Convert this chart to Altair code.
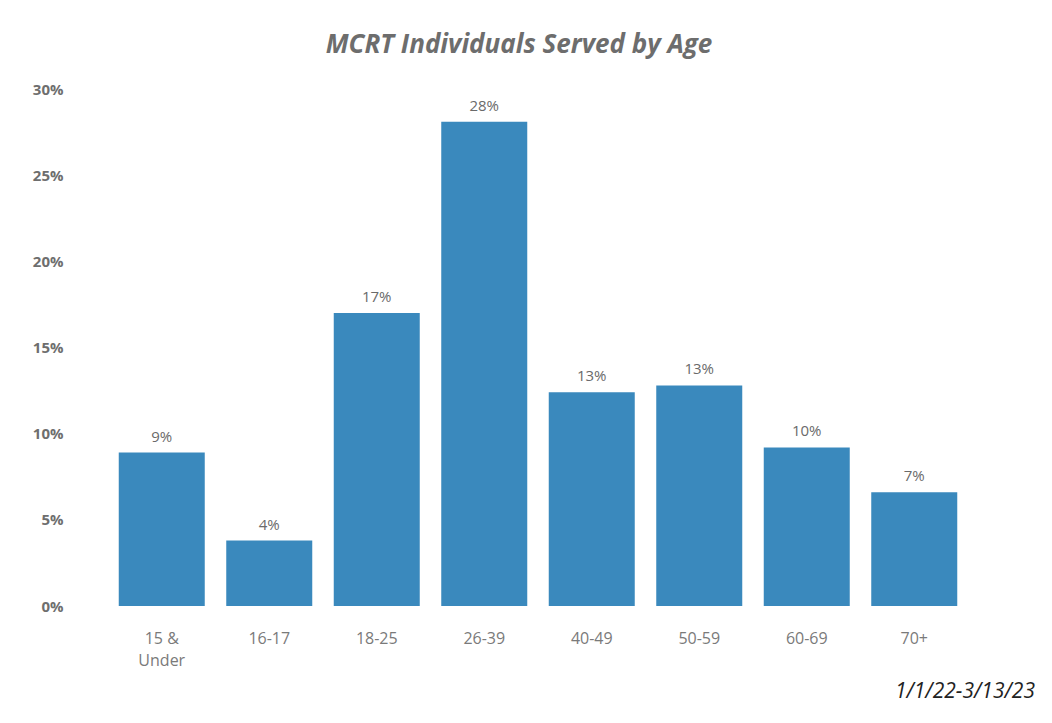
import altair as alt
import pandas as pd

categories = ["15 &\nUnder", "16-17", "18-25", "26-39", "40-49", "50-59", "60-69", "70+"]
values = [8.9, 3.8, 17.0, 28.1, 12.4, 12.8, 9.2, 6.6]
labels = ["9%", "4%", "17%", "28%", "13%", "13%", "10%", "7%"]
y_ticks = [0, 5, 10, 15, 20, 25, 30]
note = "1/1/22-3/13/23"

df = pd.DataFrame({"age": categories, "pct": values, "label": labels})

FONT = "Open Sans"

x = alt.X("age:N", sort=categories, title=None,
          scale=alt.Scale(paddingInner=0.2, paddingOuter=0.1),
          axis=alt.Axis(labelAngle=0, domain=False, ticks=False, labelPadding=24,
                        labelFontSize=16, labelColor="#7a7a7a", labelFont=FONT,
                        labelExpr="split(datum.value, '\\n')", labelLineHeight=22))
y = alt.Y("pct:Q", title=None, scale=alt.Scale(domain=[0, 30], nice=False),
          axis=alt.Axis(values=y_ticks, grid=False, domain=False, ticks=False,
                        labelExpr="datum.value + '%'", labelPadding=45,
                        labelFontSize=15, labelFontWeight="bold", labelColor="#6e6e6e",
                        labelFont=FONT))

base = alt.Chart(df)
bars = base.mark_bar(color="#3a89bd").encode(x=x, y=y)
text = base.mark_text(baseline="bottom", dy=-8, fontSize=15, color="#6a6a6a", font=FONT).encode(
    x=alt.X("age:N", sort=categories), y="pct:Q", text="label:N")
note_df = pd.DataFrame({"t": [note]})
note_mark = alt.Chart(note_df).mark_text(align="right", baseline="middle", fontSize=21,
                                         fontStyle="italic", color="#222222", font=FONT).encode(
    x=alt.value(927), y=alt.value(603), text="t:N")

chart = alt.layer(bars, text, note_mark).properties(
    width=860, height=517,
    autosize=alt.AutoSizeParams(type="none"),
    padding={"left": 108, "top": 89, "right": 84, "bottom": 117},
    title=alt.TitleParams("MCRT Individuals Served by Age", fontSize=26, fontStyle="italic",
                          fontWeight="bold", color="#6d6d6d", font=FONT, offset=24, dx=-19,
                          anchor="middle"),
).configure_view(stroke=None)

chart.save("out.html", embed_options={"renderer": "svg", "actions": False})
